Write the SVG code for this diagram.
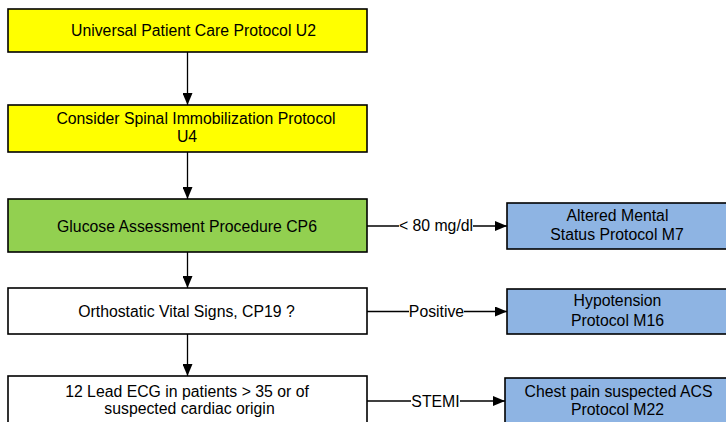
<svg xmlns="http://www.w3.org/2000/svg" width="726" height="422" viewBox="0 0 726 422">
  <defs>
    <marker id="arrow" viewBox="0 0 12 10" refX="12" refY="5" markerWidth="12" markerHeight="10" markerUnits="userSpaceOnUse" orient="auto">
      <path d="M0,0 L12,5 L0,10 Z" fill="#000"/>
    </marker>
    <style>
      .box { stroke: #000; stroke-width: 1.6; }
      .yellow { fill: #FFFF00; }
      .green { fill: #92D050; }
      .white { fill: #FFFFFF; }
      .blue { fill: #8EB4E3; }
      text { font-family: "Liberation Sans", Arial, sans-serif; font-size: 15.8px; fill: #000; text-anchor: middle; }
      .edge { stroke: #000; stroke-width: 1.3; fill: none; }
      .lbl-bg { fill: #FFFFFF; }
    </style>
  </defs>
  <rect width="726" height="422" fill="#FFFFFF"/>

  <g id="connectors">
    <line class="edge" x1="187.5" y1="52" x2="187.5" y2="105" marker-end="url(#arrow)"/>
    <line class="edge" x1="187.5" y1="152" x2="187.5" y2="199" marker-end="url(#arrow)"/>
    <line class="edge" x1="187.5" y1="252" x2="187.5" y2="288" marker-end="url(#arrow)"/>
    <line class="edge" x1="187.5" y1="334" x2="187.5" y2="376" marker-end="url(#arrow)"/>

    <line class="edge" x1="367" y1="226" x2="507" y2="226" marker-end="url(#arrow)"/>
    <rect class="lbl-bg" x="399" y="217" width="74" height="17"/>
    <text x="436" y="231">&lt; 80 mg/dl</text>

    <line class="edge" x1="367" y1="311.5" x2="507" y2="311.5" marker-end="url(#arrow)"/>
    <rect class="lbl-bg" x="409" y="302" width="55" height="18"/>
    <text x="436.5" y="317">Positive</text>

    <line class="edge" x1="367" y1="401" x2="505" y2="401" marker-end="url(#arrow)"/>
    <rect class="lbl-bg" x="411" y="392" width="49" height="17"/>
    <text x="435.5" y="406.5">STEMI</text>
  </g>

  <g id="universal-patient-care">
    <rect class="box yellow" x="8" y="9" width="359" height="43"/>
    <text x="193.5" y="35.5">Universal Patient Care Protocol U2</text>
  </g>

  <g id="spinal-immobilization">
    <rect class="box yellow" x="8" y="105" width="359" height="47"/>
    <text x="196" y="123.5">Consider Spinal Immobilization Protocol</text>
    <text x="187" y="142">U4</text>
  </g>

  <g id="glucose-assessment">
    <rect class="box green" x="8" y="199" width="359" height="53"/>
    <text x="187" y="231.5">Glucose Assessment Procedure CP6</text>
  </g>

  <g id="orthostatic-vitals">
    <rect class="box white" x="8" y="288" width="359" height="46"/>
    <text x="186.5" y="317">Orthostatic Vital Signs, CP19 ?</text>
  </g>

  <g id="twelve-lead-ecg">
    <rect class="box white" x="8" y="376" width="359" height="60"/>
    <text x="187" y="396.5">12 Lead ECG in patients &gt; 35 or of</text>
    <text x="189.5" y="414">suspected cardiac origin</text>
  </g>

  <g id="altered-mental-status">
    <rect class="box blue" x="507" y="203" width="240" height="46"/>
    <text x="617.5" y="221">Altered Mental</text>
    <text x="617" y="240">Status Protocol M7</text>
  </g>

  <g id="hypotension">
    <rect class="box blue" x="507" y="289" width="240" height="45"/>
    <text x="617.5" y="306">Hypotension</text>
    <text x="617.5" y="325.5">Protocol M16</text>
  </g>

  <g id="chest-pain-acs">
    <rect class="box blue" x="505" y="378" width="242" height="60"/>
    <text x="618.5" y="396.5">Chest pain suspected ACS</text>
    <text x="617.5" y="415">Protocol M22</text>
  </g>
</svg>
